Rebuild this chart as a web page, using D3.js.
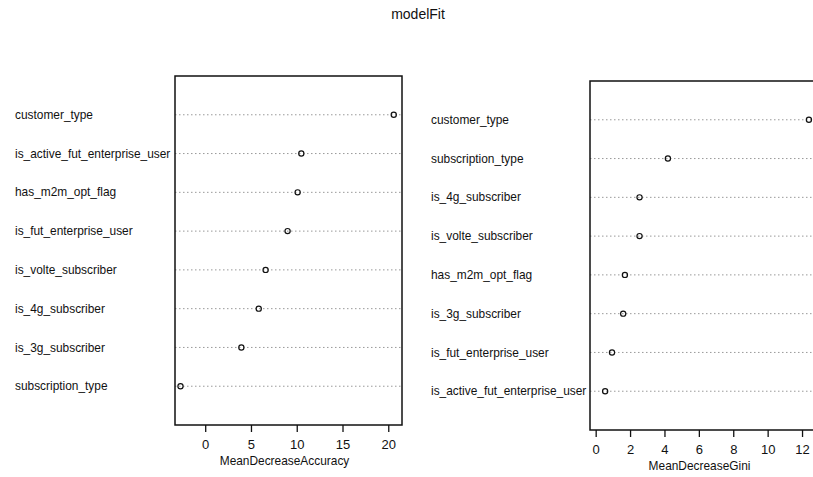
<!DOCTYPE html>
<html>
<head>
  <meta charset="utf-8">
  <script src="https://d3js.org/d3.v7.min.js"></script>
  <style>
    body { margin: 0; background: #fff; }
    text { font-family: "Liberation Sans", Arial, sans-serif; fill: #111; }
    .tick line { stroke: #111; stroke-width: 1.3; }
    .tick text { font-size: 13px; }
    .rowline { stroke: #999; stroke-width: 1; stroke-dasharray: 1.5 2.5; }
  </style>
</head>
<body>
  <script>
    // Left panel: MeanDecreaseAccuracy (top row first)
    const accLabels = [
      "customer_type", "is_active_fut_enterprise_user", "has_m2m_opt_flag",
      "is_fut_enterprise_user", "is_volte_subscriber", "is_4g_subscriber",
      "is_3g_subscriber", "subscription_type"
    ];
    const accValues = [20.6, 10.5, 10.1, 9.0, 6.6, 5.85, 3.95, -2.7];
    const accTicks = [0, 5, 10, 15, 20];

    // Right panel: MeanDecreaseGini (top row first)
    const giniLabels = [
      "customer_type", "subscription_type", "is_4g_subscriber",
      "is_volte_subscriber", "has_m2m_opt_flag", "is_3g_subscriber",
      "is_fut_enterprise_user", "is_active_fut_enterprise_user"
    ];
    const giniValues = [12.4, 4.2, 2.55, 2.55, 1.7, 1.6, 0.95, 0.55];
    const giniTicks = [0, 2, 4, 6, 8, 10, 12];

    const width = 813, height = 477;

    const svg = d3.select("body").append("svg")
      .attr("width", width)
      .attr("height", height);

    svg.append("text")
      .attr("x", 418)
      .attr("y", 19)
      .attr("text-anchor", "middle")
      .style("font-size", "14px")
      .text("modelFit");

    function panel(opts) {
      const { labels, values, ticks, title, left, right, top, bottom, labelX, xDomain } = opts;
      const n = labels.length;
      const x = d3.scaleLinear().domain(xDomain).range([left, right]);
      const y = d3.scaleLinear().domain([0, n + 1]).range([bottom, top]);
      const g = svg.append("g");

      // dotted guide lines
      g.selectAll(".rowline")
        .data(labels)
        .join("line")
        .attr("class", "rowline")
        .attr("x1", left)
        .attr("x2", right)
        .attr("y1", (d, i) => y(n - i))
        .attr("y2", (d, i) => y(n - i));

      // row labels
      g.selectAll(".rowlabel")
        .data(labels)
        .join("text")
        .attr("class", "rowlabel")
        .attr("x", labelX)
        .attr("y", (d, i) => y(n - i))
        .attr("dy", "0.35em")
        .style("font-size", "11.9px")
        .text(d => d);

      // points
      g.selectAll("circle")
        .data(values)
        .join("circle")
        .attr("cx", d => x(d))
        .attr("cy", (d, i) => y(n - i))
        .attr("r", 2.6)
        .attr("fill", "none")
        .attr("stroke", "#111")
        .attr("stroke-width", 1.2);

      // box
      g.append("rect")
        .attr("x", left)
        .attr("y", top)
        .attr("width", right - left)
        .attr("height", bottom - top)
        .attr("fill", "none")
        .attr("stroke", "#111")
        .attr("stroke-width", 1.5);

      // x axis
      const ax = g.append("g")
        .attr("transform", `translate(0,${bottom})`)
        .call(d3.axisBottom(x).tickValues(ticks).tickSize(7).tickPadding(8).tickFormat(d3.format("d")));
      ax.select(".domain").remove();

      g.append("text")
        .attr("x", (left + right) / 2 - 4)
        .attr("y", bottom + 40)
        .attr("text-anchor", "middle")
        .style("font-size", "11.9px")
        .text(title);
    }

    panel({
      labels: accLabels, values: accValues, ticks: accTicks,
      title: "MeanDecreaseAccuracy",
      left: 175, right: 402, top: 76, bottom: 425, labelX: 15,
      xDomain: [-3.3, 21.5]
    });

    panel({
      labels: giniLabels, values: giniValues, ticks: giniTicks,
      title: "MeanDecreaseGini",
      left: 590, right: 817, top: 81, bottom: 430, labelX: 431,
      xDomain: [-0.33, 12.87]
    });
  </script>
</body>
</html>
